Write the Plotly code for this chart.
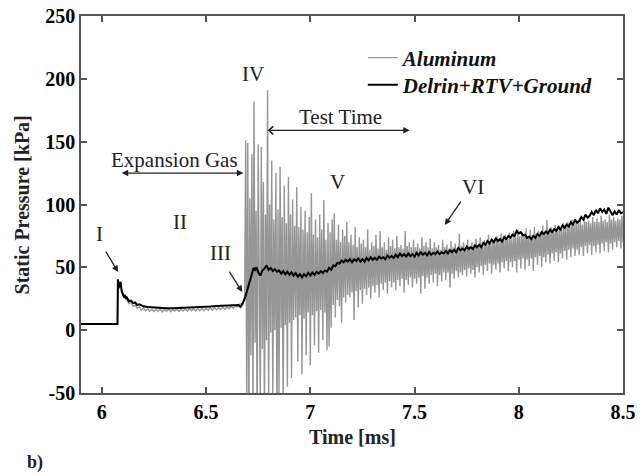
import plotly.graph_objects as go

# ---------------- data ----------------
# Delrin+RTV+Ground (black): early part, explicit samples
delrin_early_t = [5.90, 6.075, 6.077, 6.082, 6.086, 6.090, 6.095, 6.100, 6.105, 6.110, 6.115,
                  6.120, 6.13, 6.14, 6.15, 6.16, 6.17, 6.18, 6.20, 6.22, 6.25, 6.28, 6.31, 6.34,
                  6.37, 6.40, 6.43, 6.46, 6.49, 6.52, 6.55, 6.58, 6.61, 6.64, 6.655, 6.665,
                  6.675, 6.688, 6.700, 6.712, 6.722, 6.728, 6.735, 6.742]
delrin_early_p = [5.0, 5.0, 40.5, 34, 36, 38.5, 31, 29, 27, 28, 25,
                  26, 23, 23.5, 21.5, 22, 20, 20.5, 19, 18.5, 18, 17.8, 17.5, 17.4,
                  17.6, 17.5, 17.8, 18.2, 18.5, 18.8, 19.2, 19.5, 19.8, 20.2, 20, 18.5,
                  21, 26.5, 33, 40, 46, 49.5, 48, 50]
# Delrin+RTV+Ground (black): later part, one sample every DELRIN_DT ms from DELRIN_T0
DELRIN_T0 = 6.75
DELRIN_DT = 0.01
delrin_late_p = [
    46, 43.5, 47.5, 49, 51.5, 48, 49.5, 47, 48.5, 46.5,
    47.5, 45, 47, 44.5, 46.5, 44, 46, 43.5, 45.5, 42.5,
    44.5, 42, 44.5, 43, 45.5, 43.5, 46, 44, 46.5, 45,
    47, 45.5, 47.5, 46.5, 49.5, 48, 51.5, 51, 53.5, 53,
    55.5, 54, 56, 54.5, 56.5, 54, 56.5, 55, 57, 54.5,
    56.5, 54.5, 57.5, 55.5, 58, 56, 57.5, 56, 58.5, 57,
    58, 56.5, 59.5, 57.5, 59, 57.5, 60, 58, 61, 59,
    60.5, 58.5, 61, 59, 60.5, 58.5, 61.5, 59.5, 62, 60,
    61.5, 59.5, 62, 60, 61.5, 60.5, 62.5, 60.5, 62, 61,
    63, 61, 63.5, 62, 64, 62, 65.5, 63.5, 65, 63.5,
    66.5, 64.5, 66, 64.5, 67.5, 66, 68, 66, 69.5, 68,
    71, 69, 72, 70, 73, 71, 72.5, 70.5, 74, 72.5,
    75, 73.5, 76, 75, 79, 77, 78, 75.5, 76, 73.5,
    74.5, 72.5, 75, 73.5, 76.5, 75, 78, 76.5, 78.5, 77,
    80, 78, 80.5, 79, 82, 80, 83.5, 81.5, 84, 82.5,
    86, 84, 88, 85.5, 87, 90, 88, 92, 89.5, 91,
    94, 91.5, 95.5, 93, 97, 94, 96, 92.5, 97.5, 95,
    91.5, 94.5, 92, 95.5, 93, 94,
]
delrin_late_t = [round(DELRIN_T0 + i * DELRIN_DT, 4) for i in range(len(delrin_late_p))]
delrin_t = delrin_early_t + delrin_late_t
delrin_p = delrin_early_p + delrin_late_p

# Aluminum (grey): quiet part before the reflected-shock noise
alu_quiet_t = [5.90, 6.075, 6.077, 6.082, 6.090, 6.095, 6.100, 6.110,
               6.12, 6.13, 6.14, 6.15, 6.16, 6.17, 6.18, 6.19, 6.20, 6.21, 6.22, 6.23, 6.24,
               6.25, 6.26, 6.27, 6.28, 6.29, 6.30, 6.31, 6.32, 6.33, 6.34, 6.35, 6.36, 6.37,
               6.38, 6.39, 6.40, 6.41, 6.42, 6.43, 6.44, 6.45, 6.46, 6.47, 6.48, 6.49, 6.50,
               6.51, 6.52, 6.53, 6.54, 6.55, 6.56, 6.57, 6.58, 6.59, 6.60, 6.61, 6.62, 6.63,
               6.64, 6.65, 6.66, 6.67, 6.68, 6.685]
alu_quiet_p = [4.6, 4.6, 39, 33, 37, 30, 28, 26,
               24, 21, 22, 19, 20, 17.5, 18.5, 16, 17.5, 15.5, 17, 15, 16.5,
               14.8, 16.5, 15, 16.8, 14.6, 16.5, 15, 16.8, 14.7, 16.6, 15.2, 16.9, 14.9,
               16.7, 15.3, 17, 15.1, 16.9, 15.4, 17.2, 15.2, 17, 15.6, 17.3, 15.5, 17.4,
               15.8, 17.6, 16, 17.8, 16.2, 18, 16.4, 18.2, 16.7, 18.5, 17, 18.8, 17.5,
               19.5, 18.5, 20.5, 21, 22.5, 24]

# Aluminum (grey): oscillating part, one sample every ALU_NOISE_DT ms from ALU_NOISE_T0
ALU_NOISE_T0 = 6.690
ALU_NOISE_DT = 0.005
alu_noise_p = [
    151, -60, 149, -85, 105, -20, 140, -70, 182, -10, 95, -90, 148, -5, -60, 146,
    -15, 118, -75, 92, -8, 191, -65, 100, -2, 135, -55, 88, 0, 125, -80, 96,
    -50, 130, 2, 90, -68, 115, 4, 85, -45, 122, 6, 92, -38, 104, 8, 83,
    10, 114, -25, 82, 12, 98, -35, 80, 9, 95, -20, 78, 14, 90, -28, 109,
    12, 76, -12, 88, 15, 74, -18, 92, 16, 80, -8, 103.5, 14, 72, -16, 85,
    -13, 78, 2, 88, 20, 93, 10, 72, 24, 84, 19, 70, 6, 80, 26, 75,
    22, 86, 28, 70, 26, 76, 30, 68, 8, 82, 31, 66, 18, 74, 32, 69,
    21, 72, 33, 66, 28, 80, 34, 64, 25, 70, 35, 67, 30, 76, 36, 65,
    26, 79, 37, 66, 32, 70, 38, 64, 29, 74, 39, 67, 34, 72, 38, 65,
    32, 75, 40, 66, 35, 68, 41, 65, 30, 79, 40, 67, 36, 70, 42, 66,
    34, 72, 41, 66, 37, 69, 42, 65, 29, 74, 43, 67, 33, 70, 42, 66,
    37, 73, 44, 65, 38, 70, 45, 66, 35, 68, 44, 64, 39, 72, 46, 66,
    40, 68, 46, 65, 34, 71, 45, 66, 41, 69, 47, 65, 42, 77, 46, 67,
    44, 70, 48, 66, 43, 72, 49, 67, 45, 70, 48, 68, 42, 73, 50, 68,
    46, 74, 51, 69, 44, 72, 52, 70, 47, 76, 53, 71, 45, 73, 52, 72,
    48, 75, 53, 72, 46, 77, 54, 73, 49, 76, 55, 74, 47, 78, 54, 73,
    50, 79, 55, 74, 46, 80, 56, 75, 49, 78, 57, 76, 48, 81, 56, 75,
    51, 80, 57, 76, 47, 82, 58, 77, 52, 79, 59, 78, 50, 83, 58, 77,
    54, 87.6, 60, 79, 53, 82, 61, 80, 55, 84, 62, 81, 54, 83, 61, 80,
    57, 85, 63, 82, 56, 86, 64, 83, 58, 88, 65, 84, 59, 86, 64, 85,
    60, 88, 66, 84, 59, 89, 67, 86, 61, 87, 68, 85, 60, 90, 67, 86,
    62, 89, 68, 86, 61, 91, 69, 87, 63, 88, 70, 86, 62, 92, 69, 88,
    64, 90, 70, 87, 66, 89, 71, 88, 65, 91, 70,
]
alu_noise_t = [round(ALU_NOISE_T0 + i * ALU_NOISE_DT, 4) for i in range(len(alu_noise_p))]
alu_t = alu_quiet_t + alu_noise_t
alu_p = alu_quiet_p + alu_noise_p

x_ticks = [6, 6.5, 7, 7.5, 8, 8.5]
x_tick_labels = ["6", "6.5", "7", "7.5", "8", "8.5"]
y_ticks = [-50, 0, 50, 100, 150, 200, 250]
y_tick_labels = ["-50", "0", "50", "100", "150", "200", "250"]

# ---------------- figure ----------------
SERIF = "Liberation Serif"
AX = "#555555"

fig = go.Figure()
fig.add_trace(go.Scatter(x=alu_t, y=alu_p, mode="lines", name="Aluminum", legend="legend",
                         line=dict(color="#969696", width=1.4)))
fig.add_trace(go.Scatter(x=delrin_t, y=delrin_p, mode="lines", name="Delrin+RTV+Ground",
                         legend="legend2", line=dict(color="black", width=2)))

axis_common = dict(showline=True, linecolor=AX, linewidth=1.5, mirror="ticks",
                   ticks="inside", ticklen=6, tickwidth=1.5, tickcolor=AX,
                   showgrid=False, zeroline=False, automargin=False,
                   ticklabeloverflow="allow",
                   tickfont=dict(family=SERIF, size=20, color="black", weight="bold"))

fig.update_xaxes(range=[5.9, 8.5], tickvals=x_ticks, ticktext=x_tick_labels, **axis_common)
fig.update_yaxes(range=[-50, 250], tickvals=y_ticks, ticktext=y_tick_labels, **axis_common)

text_font = dict(family=SERIF, size=21, color="#222222")
labels = [
    ("I", 5.991, 76.4), ("II", 6.376, 86), ("III", 6.568, 61.3), ("IV", 6.727, 204),
    ("V", 7.129, 118), ("VI", 7.78, 114), ("Expansion Gas", 6.347, 135.4),
    ("Test Time", 7.145, 169.6),
]
for txt, x, y in labels:
    fig.add_annotation(x=x, y=y, text=txt, showarrow=False, font=text_font,
                       xanchor="center", yanchor="middle")

arrow_common = dict(xref="x", yref="y", axref="x", ayref="y", text="", showarrow=True,
                    arrowcolor="#222222", arrowwidth=1.3)
# single arrows: (tail -> head)
for (tx, ty, hx, hy) in [(6.015, 63.7, 6.078, 46.2), (6.607, 47.8, 6.674, 30.3),
                         (7.727, 103.5, 7.645, 83.6)]:
    fig.add_annotation(x=hx, y=hy, ax=tx, ay=ty, arrowhead=2, arrowsize=1, **arrow_common)
# double arrows
fig.add_annotation(x=6.679, y=125, ax=6.088, ay=125, arrowhead=2, startarrowhead=2,
                   arrowside="end+start", arrowsize=1, startarrowsize=1, **arrow_common)
fig.add_annotation(x=7.477, y=159, ax=6.789, ay=159, arrowhead=2, startarrowhead=4,
                   arrowside="end+start", arrowsize=1, startarrowsize=1.2, **arrow_common)

# axis titles and panel label
fig.add_annotation(xref="paper", yref="paper", x=0.5, y=-0.1167, text="<b>Time [ms]</b>",
                   showarrow=False, font=dict(family=SERIF, size=20, color="#222222"),
                   xanchor="center", yanchor="middle")
fig.add_annotation(xref="paper", yref="paper", x=-0.1089, y=0.5,
                   text="<b>Static Pressure [kPa]</b>", textangle=-90,
                   showarrow=False, font=dict(family=SERIF, size=20, color="#222222"),
                   xanchor="center", yanchor="middle")
fig.add_annotation(xref="paper", yref="paper", x=-0.085, y=-0.2175, text="<b>b)</b>",
                   showarrow=False, font=dict(family=SERIF, size=18, color="#222222"),
                   xanchor="center", yanchor="bottom")

legend_font = dict(family=SERIF, size=21, color="#111111", weight="bold", style="italic")
fig.update_layout(
    width=642, height=475, autosize=False,
    margin=dict(l=81, r=19, t=16, b=82),
    paper_bgcolor="white", plot_bgcolor="white",
    showlegend=True,
    legend=dict(x=0.52, y=0.8886, xanchor="left", yanchor="middle",
                bgcolor="rgba(0,0,0,0)", borderwidth=0, itemwidth=30, font=legend_font),
    legend2=dict(x=0.52, y=0.817, xanchor="left", yanchor="middle",
                 bgcolor="rgba(0,0,0,0)", borderwidth=0, itemwidth=30, font=legend_font),
)

# remove the browser's default 8 px page margin so the figure fills the window exactly
fig.write_html("out.html", config={"displayModeBar": False},
               post_script="document.body.style.margin='0';")
